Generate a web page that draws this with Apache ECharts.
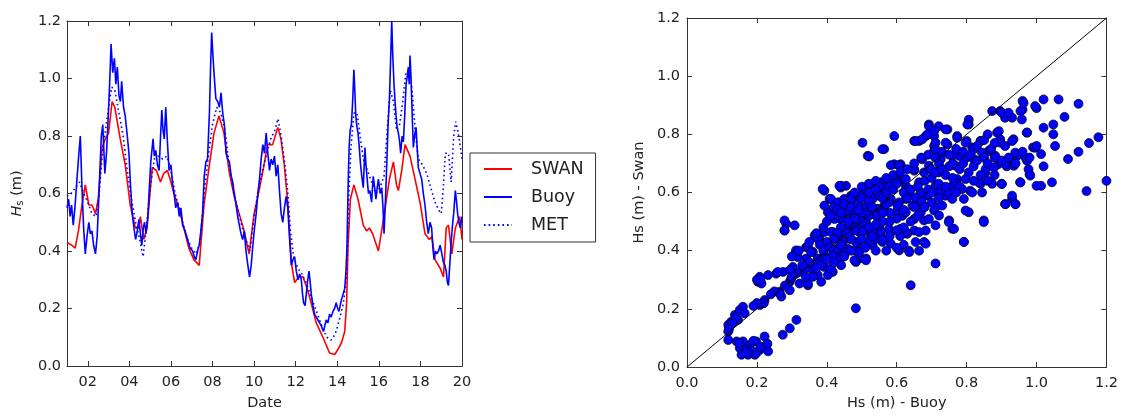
<!DOCTYPE html>
<html>
<head>
<meta charset="utf-8">
<script src="https://cdn.jsdelivr.net/npm/echarts@6/dist/echarts.min.js"></script>
<style>
  html, body { margin: 0; padding: 0; background: #fff; }
  #chart { width: 1121px; height: 416px; }
</style>
</head>
<body>
<div id="chart"></div>
<script>
// time series, [day of month, Hs in m]
var swanSeries = [
  [1.00,0.43],[1.23,0.42],[1.39,0.41],[1.55,0.47],[1.70,0.55],[1.88,0.63],[2.05,0.56],[2.20,0.56],[2.37,0.53],
  [2.50,0.58],[2.69,0.76],[2.84,0.79],[3.00,0.81],[3.17,0.92],[3.30,0.90],[3.56,0.79],[3.80,0.70],[4.04,0.56],
  [4.29,0.48],[4.45,0.48],[4.53,0.52],[4.69,0.44],[4.85,0.48],[5.10,0.69],[5.30,0.68],[5.50,0.64],[5.65,0.67],
  [5.83,0.68],[6.00,0.64],[6.14,0.60],[6.38,0.55],[6.62,0.48],[6.86,0.41],[7.10,0.37],[7.36,0.35],[7.59,0.56],
  [7.83,0.69],[8.07,0.81],[8.31,0.87],[8.55,0.81],[8.79,0.68],[9.04,0.59],[9.28,0.53],[9.52,0.47],[9.76,0.39],
  [10.00,0.53],[10.24,0.61],[10.48,0.70],[10.65,0.77],[10.89,0.77],[11.14,0.83],[11.29,0.79],[11.45,0.70],
  [11.63,0.56],[11.79,0.36],[11.95,0.29],[12.15,0.31],[12.35,0.31],[12.50,0.28],[12.67,0.24],[12.99,0.15],
  [13.31,0.10],[13.63,0.045],[13.88,0.04],[14.05,0.06],[14.20,0.08],[14.36,0.12],[14.45,0.22],[14.52,0.42],
  [14.63,0.58],[14.80,0.63],[15.00,0.58],[15.25,0.49],[15.41,0.47],[15.55,0.48],[15.70,0.46],[15.98,0.40],
  [16.22,0.51],[16.51,0.65],[16.70,0.71],[16.85,0.63],[16.94,0.61],[17.10,0.68],[17.26,0.77],[17.50,0.73],
  [17.74,0.65],[17.98,0.57],[18.22,0.46],[18.43,0.44],[18.55,0.45],[18.70,0.37],[18.95,0.34],[19.11,0.31],
  [19.24,0.48],[19.35,0.49],[19.51,0.39],[19.68,0.48],[19.89,0.52],[20.00,0.44]
];

var buoySeries = [
  [1.00,0.55],[1.08,0.58],[1.15,0.52],[1.22,0.56],[1.30,0.49],[1.38,0.55],[1.45,0.62],[1.55,0.72],[1.64,0.80],
  [1.72,0.62],[1.80,0.48],[1.88,0.39],[1.96,0.45],[2.05,0.50],[2.12,0.46],[2.20,0.47],[2.28,0.42],[2.37,0.39],
  [2.45,0.45],[2.55,0.62],[2.65,0.80],[2.72,0.84],[2.82,0.67],[2.90,0.74],[2.98,0.86],[3.05,0.98],[3.12,1.12],
  [3.20,1.02],[3.28,1.07],[3.35,0.98],[3.42,1.04],[3.50,0.94],[3.57,0.92],[3.63,0.99],[3.72,0.90],[3.80,0.87],
  [3.90,0.80],[3.98,0.74],[4.06,0.62],[4.14,0.53],[4.22,0.48],[4.30,0.44],[4.38,0.47],[4.46,0.51],[4.53,0.46],
  [4.60,0.42],[4.67,0.48],[4.73,0.50],[4.80,0.46],[4.89,0.52],[4.96,0.62],[5.03,0.71],[5.14,0.79],[5.20,0.73],
  [5.27,0.75],[5.35,0.70],[5.43,0.68],[5.50,0.80],[5.56,0.89],[5.62,0.82],[5.68,0.79],[5.75,0.90],[5.83,0.78],
  [5.91,0.68],[6.00,0.70],[6.07,0.64],[6.15,0.60],[6.23,0.55],[6.32,0.57],[6.40,0.52],[6.48,0.55],[6.56,0.49],
  [6.68,0.47],[6.80,0.44],[6.92,0.41],[7.04,0.40],[7.12,0.38],[7.20,0.37],[7.28,0.40],[7.36,0.42],[7.44,0.47],
  [7.52,0.53],[7.60,0.66],[7.68,0.71],[7.76,0.72],[7.85,0.88],[7.91,1.05],[7.96,1.16],[8.02,1.08],[8.08,1.01],
  [8.16,0.93],[8.25,0.92],[8.33,0.90],[8.41,0.95],[8.49,0.88],[8.57,0.84],[8.65,0.74],[8.73,0.72],[8.81,0.71],
  [8.90,0.66],[8.97,0.64],[9.05,0.60],[9.13,0.56],[9.21,0.52],[9.29,0.49],[9.37,0.46],[9.45,0.44],[9.53,0.47],
  [9.61,0.40],[9.70,0.35],[9.78,0.31],[9.86,0.35],[9.94,0.42],[10.02,0.48],[10.10,0.53],[10.18,0.60],[10.26,0.65],
  [10.34,0.72],[10.42,0.77],[10.50,0.74],[10.58,0.81],[10.66,0.74],[10.74,0.68],[10.82,0.72],[10.90,0.70],
  [10.98,0.73],[11.06,0.66],[11.14,0.70],[11.22,0.61],[11.30,0.53],[11.38,0.50],[11.46,0.55],[11.54,0.59],
  [11.62,0.55],[11.70,0.45],[11.79,0.35],[11.87,0.37],[11.95,0.38],[12.03,0.33],[12.11,0.30],[12.19,0.32],
  [12.27,0.30],[12.33,0.25],[12.38,0.22],[12.45,0.21],[12.51,0.25],[12.58,0.30],[12.64,0.33],[12.70,0.29],
  [12.75,0.25],[12.83,0.21],[12.91,0.18],[12.99,0.17],[13.07,0.16],[13.15,0.15],[13.23,0.14],[13.28,0.13],
  [13.34,0.12],[13.40,0.14],[13.47,0.16],[13.55,0.15],[13.63,0.18],[13.71,0.17],[13.79,0.19],[13.87,0.20],
  [13.95,0.22],[14.02,0.20],[14.08,0.19],[14.14,0.21],[14.20,0.23],[14.28,0.25],[14.36,0.27],[14.42,0.33],
  [14.47,0.42],[14.52,0.62],[14.57,0.76],[14.62,0.82],[14.68,0.84],[14.74,0.92],[14.80,1.03],[14.85,0.95],
  [14.89,0.87],[14.95,0.83],[15.00,0.81],[15.06,0.76],[15.12,0.70],[15.18,0.66],[15.25,0.62],[15.33,0.76],
  [15.38,0.70],[15.44,0.65],[15.50,0.60],[15.57,0.61],[15.65,0.57],[15.73,0.66],[15.80,0.62],[15.86,0.58],
  [15.92,0.62],[15.98,0.65],[16.06,0.60],[16.14,0.62],[16.20,0.55],[16.25,0.46],[16.32,0.58],[16.38,0.70],
  [16.45,0.85],[16.51,0.93],[16.56,1.05],[16.62,1.20],[16.67,1.08],[16.73,0.98],[16.78,0.92],[16.83,0.87],
  [16.88,0.83],[16.94,0.81],[17.00,0.78],[17.05,0.74],[17.12,0.80],[17.18,0.78],[17.25,0.88],[17.31,0.98],
  [17.37,1.01],[17.42,1.04],[17.46,0.98],[17.50,1.08],[17.55,1.00],[17.58,0.93],[17.62,0.84],[17.66,0.76],
  [17.72,0.80],[17.79,0.83],[17.85,0.75],[17.90,0.69],[17.98,0.67],[18.06,0.65],[18.14,0.60],[18.22,0.56],
  [18.30,0.50],[18.38,0.46],[18.46,0.50],[18.54,0.48],[18.60,0.41],[18.66,0.37],[18.72,0.40],[18.79,0.39],
  [18.87,0.40],[18.95,0.42],[19.03,0.39],[19.11,0.36],[19.18,0.35],[19.24,0.33],[19.30,0.29],[19.35,0.28],
  [19.41,0.35],[19.47,0.42],[19.53,0.48],[19.60,0.53],[19.68,0.61],[19.74,0.57],[19.79,0.53],[19.85,0.50],
  [19.92,0.48],[20.00,0.52]
];

var metSeries = [
  [1.0,0.59],[1.2,0.60],[1.4,0.62],[1.6,0.64],[1.8,0.60],[2.0,0.57],[2.2,0.53],[2.4,0.52],[2.55,0.60],[2.7,0.74],
  [2.85,0.82],[3.0,0.90],[3.15,0.97],[3.3,0.96],[3.5,0.88],[3.7,0.80],[3.9,0.68],[4.1,0.58],[4.3,0.50],[4.5,0.44],
  [4.66,0.38],[4.8,0.47],[5.0,0.62],[5.2,0.72],[5.4,0.73],[5.6,0.72],[5.8,0.73],[6.0,0.68],[6.2,0.60],[6.4,0.55],
  [6.6,0.49],[6.8,0.44],[7.0,0.41],[7.2,0.39],[7.4,0.43],[7.6,0.60],[7.8,0.73],[8.0,0.84],[8.2,0.90],[8.4,0.88],
  [8.6,0.82],[8.8,0.70],[9.0,0.61],[9.2,0.55],[9.4,0.49],[9.6,0.44],[9.8,0.40],[10.0,0.52],[10.2,0.61],[10.4,0.68],
  [10.6,0.74],[10.8,0.79],[11.0,0.82],[11.15,0.86],[11.3,0.80],[11.45,0.72],[11.6,0.62],[11.75,0.47],[11.9,0.38],
  [12.1,0.34],[12.3,0.32],[12.5,0.29],[12.7,0.25],[12.9,0.21],[13.1,0.17],[13.3,0.13],[13.5,0.10],[13.7,0.09],
  [13.9,0.11],[14.1,0.16],[14.3,0.22],[14.45,0.32],[14.55,0.58],[14.65,0.75],[14.8,0.88],[14.95,0.88],[15.1,0.80],
  [15.25,0.72],[15.45,0.68],[15.65,0.64],[15.85,0.60],[16.05,0.62],[16.25,0.66],[16.4,0.82],[16.55,0.96],
  [16.7,0.92],[16.85,0.82],[17.0,0.84],[17.15,0.92],[17.3,1.02],[17.45,1.03],[17.6,0.96],[17.75,0.82],[17.9,0.72],
  [18.1,0.70],[18.3,0.67],[18.5,0.62],[18.7,0.57],[18.9,0.54],[19.0,0.53],[19.1,0.62],[19.2,0.74],[19.35,0.74],
  [19.48,0.64],[19.6,0.80],[19.7,0.85],[19.85,0.80],[20.0,0.72]
];

// scatter, [Hs buoy, Hs swan]
var buoyVsSwan = [
  [1.20,0.64],[1.12,0.905],[1.063,0.92],[1.02,0.92],[1.0,0.89],[1.08,0.86],[0.96,0.915],[0.96,0.885],[1.177,0.79],
  [1.15,0.77],[1.12,0.74],[1.09,0.715],[1.143,0.605],[1.048,0.834],[1.048,0.80],[1.053,0.76],[1.044,0.635],
  [1.013,0.623],[1.02,0.69],[1.02,0.823],[1.013,0.732],[0.99,0.755],[0.98,0.663],[0.973,0.806],[0.973,0.709],
  [0.953,0.635],[0.944,0.726],[0.93,0.703],[0.94,0.56],[0.93,0.578],[0.91,0.56],[0.934,0.783],[0.915,0.69],
  [0.91,0.76],[0.896,0.88],[0.873,0.88],[0.91,0.857],[0.93,0.857],[0.887,0.806],[0.896,0.783],[0.863,0.743],
  [0.89,0.697],[0.9,0.63],[0.873,0.63],[0.854,0.669],[0.849,0.504],[0.84,0.63],[0.844,0.737],[0.84,0.777],
  [0.806,0.85],[0.806,0.834],[0.80,0.777],[0.816,0.755],[0.82,0.715],[0.806,0.669],[0.81,0.606],[0.792,0.578],
  [0.806,0.532],[0.792,0.43],[0.759,0.475],[0.75,0.504],[0.74,0.589],[0.759,0.623],[0.773,0.646],[0.768,0.692],
  [0.778,0.726],[0.759,0.726],[0.745,0.766],[0.773,0.794],[0.745,0.817],[0.72,0.828],[0.692,0.834],[0.707,0.794],
  [0.683,0.794],[0.707,0.76],[0.707,0.743],[0.664,0.777],[0.65,0.777],[0.726,0.715],[0.72,0.669],[0.711,0.623],
  [0.70,0.566],[0.707,0.538],[0.711,0.487],[0.711,0.356],[0.683,0.589],[0.678,0.669],[0.692,0.692],[0.664,0.635],
  [0.65,0.675],[0.659,0.578],[0.645,0.555],[0.669,0.532],[0.678,0.504],[0.678,0.43],[0.664,0.40],[0.65,0.469],
  [0.635,0.40],[0.63,0.458],[0.64,0.281],[0.626,0.578],[0.626,0.623],[0.616,0.52],[0.611,0.475],[0.607,0.566],
  [0.588,0.646],[0.607,0.64],[0.597,0.532],[0.583,0.578],[0.583,0.464],[0.593,0.697],[0.611,0.697],[0.593,0.794],
  [0.583,0.424],[0.564,0.749],[0.564,0.555],[0.555,0.606],[0.569,0.623],[0.54,0.606],[0.531,0.578],[0.517,0.726],
  [0.502,0.771],[0.545,0.52],[0.55,0.475],[0.54,0.441],[0.531,0.418],[0.517,0.475],[0.512,0.55],[0.507,0.509],
  [0.512,0.373],[0.493,0.373],[0.483,0.202],[0.488,0.418],[0.493,0.464],[0.479,0.578],[0.474,0.532],[0.474,0.487],
  [0.464,0.441],[0.483,0.361],[0.464,0.578],[0.455,0.532],[0.455,0.475],[0.455,0.623],[0.44,0.617],[0.436,0.566],
  [0.44,0.509],[0.436,0.441],[0.436,0.396],[0.431,0.373],[0.422,0.509],[0.417,0.464],[0.417,0.384],[0.417,0.327],
  [0.408,0.578],[0.403,0.532],[0.403,0.418],[0.393,0.606],[0.393,0.555],[0.393,0.464],[0.388,0.361],[0.384,0.293],
  [0.379,0.441],[0.374,0.373],[0.37,0.452],[0.36,0.396],[0.355,0.338],[0.341,0.412],[0.346,0.281],[0.341,0.373],
  [0.322,0.287],[0.312,0.321],[0.312,0.396],[0.303,0.344],[0.294,0.293],[0.294,0.264],[0.308,0.487],[0.284,0.492],
  [0.279,0.504],[0.279,0.469],[0.275,0.327],[0.265,0.259],[0.27,0.242],[0.255,0.321],[0.232,0.316],[0.208,0.31],
  [0.203,0.293],[0.213,0.287],[0.217,0.219],[0.208,0.213],[0.274,0.111],[0.294,0.133],[0.313,0.162],
  [0.118,0.145],[0.118,0.122],[0.127,0.156],[0.137,0.179],[0.151,0.196],[0.16,0.207],[0.165,0.185],[0.146,0.162],
  [0.118,0.093],[0.142,0.088],[0.16,0.088],[0.151,0.065],[0.156,0.042],[0.175,0.042],[0.194,0.042],[0.18,0.076],
  [0.198,0.088],[0.222,0.105],[0.227,0.076],[0.232,0.054],[0.208,0.059],[0.17,0.06],[0.185,0.055],[0.222,0.23],
  [0.265,0.253],[0.26,0.327],[0.294,0.333],[0.298,0.304],[0.279,0.47],[0.317,0.378],[0.312,0.401],[0.346,0.413],
  [0.365,0.452],[0.374,0.441],[0.355,0.395],[0.37,0.356],[0.388,0.612],[0.441,0.623],[0.393,0.384],[0.403,0.316],
  [0.393,0.344],[0.346,0.287],[0.322,0.327],
  [0.412,0.578],[0.431,0.566],[0.45,0.578],[0.469,0.589],[0.488,0.583],[0.507,0.6],[0.526,0.612],[0.545,0.6],
  [0.555,0.635],[0.431,0.521],[0.46,0.532],[0.488,0.544],[0.517,0.532],[0.545,0.544],[0.412,0.464],[0.441,0.475],
  [0.469,0.464],[0.498,0.475],[0.526,0.452],[0.555,0.464],[0.431,0.407],[0.46,0.407],[0.488,0.395],[0.384,0.35],
  [0.412,0.338],[0.441,0.35],[0.374,0.316],[0.336,0.338],
  [0.521,0.724],[0.559,0.749],[0.583,0.694],[0.607,0.694],[0.654,0.777],[0.673,0.783],[0.692,0.828],[0.707,0.811],
  [0.688,0.80],[0.711,0.771],[0.74,0.817],[0.711,0.749],[0.673,0.714],[0.65,0.68],[0.697,0.68],[0.721,0.697],
  [0.74,0.771],[0.773,0.788],[0.802,0.834],[0.797,0.771],[0.821,0.749],[0.84,0.777],[0.901,0.874],[0.92,0.874],
  [0.963,0.908],[0.954,0.88],[0.958,0.851],[0.996,0.897],[0.892,0.811],[0.897,0.771],[0.93,0.777],[0.972,0.806],
  [0.868,0.743],[0.882,0.726],[0.939,0.737],[0.996,0.754],[0.968,0.72],[0.911,0.697],[0.935,0.692],[0.977,0.68],
  [0.854,0.68],[0.878,0.686],[0.982,0.658],[0.954,0.635],[1.0,0.623],[0.901,0.629],[0.835,0.635],[0.844,0.60],
  [0.797,0.646],[0.816,0.60],[0.768,0.635],[0.787,0.612],[0.749,0.60],[0.721,0.60],[0.692,0.595],[0.669,0.60],
  [0.654,0.583],[0.673,0.56],[0.711,0.549],[0.73,0.555],[0.759,0.578],[0.911,0.56],[0.939,0.56],[0.93,0.589],
  [0.797,0.538],[0.749,0.498],[0.764,0.475],[0.721,0.521],[0.692,0.509],[0.683,0.469],[0.65,0.509],[0.626,0.532],
  [0.602,0.555],[0.578,0.566],[0.55,0.589],[0.531,0.612],[0.569,0.618],[0.602,0.635],[0.588,0.646],[0.626,0.646],
  [0.635,0.60],[0.493,0.589],[0.474,0.56],[0.455,0.538],[0.436,0.623],[0.465,0.509],[0.493,0.521],[0.512,0.498],
  [0.54,0.521],[0.559,0.532],[0.55,0.487],[0.578,0.475],[0.531,0.464],[0.502,0.464],[0.483,0.481],[0.445,0.464],
  [0.445,0.43],[0.483,0.43],[0.521,0.43],[0.559,0.43],[0.626,0.464],[0.664,0.464],[0.654,0.43],[0.683,0.424],
  [0.636,0.395],[0.607,0.401],[0.493,0.395],[0.455,0.395],[0.479,0.367],[0.512,0.367],[0.792,0.43],[0.849,0.498],
  [0.42,0.55],[0.43,0.54],[0.45,0.56],[0.47,0.55],[0.49,0.56],[0.50,0.58],[0.52,0.57],[0.53,0.55],[0.56,0.58],
  [0.57,0.60],[0.58,0.62],[0.59,0.61],[0.60,0.63],[0.62,0.60],[0.63,0.58],[0.64,0.61],[0.66,0.62],[0.68,0.64],
  [0.70,0.65],[0.71,0.67],[0.73,0.68],[0.74,0.66],[0.75,0.69],[0.76,0.70],[0.78,0.68],[0.79,0.70],[0.80,0.72],
  [0.82,0.69],[0.83,0.71],[0.85,0.72],[0.86,0.70],[0.87,0.75],[0.88,0.77],[0.76,0.65],[0.72,0.63],[0.69,0.61],
  [0.67,0.57],[0.65,0.55],[0.62,0.54],[0.60,0.51],[0.58,0.50],[0.56,0.50],[0.54,0.49],[0.52,0.48],[0.50,0.50],
  [0.48,0.51],[0.46,0.50],[0.44,0.48],[0.43,0.46],[0.42,0.44],[0.40,0.43],[0.38,0.42],[0.39,0.40],[0.41,0.41],
  [0.44,0.42],[0.47,0.44],[0.50,0.44],[0.53,0.45],[0.56,0.44],[0.58,0.45],[0.61,0.45],[0.62,0.42],[0.60,0.41],
  [0.57,0.40],[0.54,0.40],[0.51,0.41],[0.47,0.40],[0.45,0.38],[0.42,0.36],[0.40,0.37],[0.37,0.34],[0.35,0.36],
  [0.33,0.35],[0.36,0.31],[0.34,0.31],[0.30,0.31],[0.28,0.28],[0.25,0.26],[0.24,0.25],[0.22,0.22],[0.20,0.22],
  [0.19,0.21],[0.14,0.17],[0.13,0.15],[0.12,0.13],[0.15,0.08],[0.17,0.05],[0.20,0.05],[0.21,0.07],[0.19,0.09],
  [0.23,0.08],[0.20,0.30],[0.21,0.30],[0.30,0.38],[0.32,0.40],[0.35,0.43],[0.37,0.46],[0.39,0.48],[0.40,0.50],
  [0.41,0.52],[0.44,0.53],[0.47,0.58],[0.48,0.60],[0.50,0.62],[0.52,0.63],[0.54,0.64],[0.55,0.62],[0.57,0.65],
  [0.59,0.66],[0.61,0.67],[0.63,0.68],[0.65,0.70],[0.67,0.72],[0.69,0.73],[0.71,0.72],[0.73,0.74],[0.75,0.73],
  [0.77,0.75],[0.79,0.74],[0.81,0.73],[0.83,0.76],[0.85,0.78],[0.86,0.80],[0.88,0.72],[0.90,0.71],[0.92,0.72],
  [0.94,0.70],[0.96,0.74],[0.98,0.72],[1.00,0.76],[0.84,0.66],[0.86,0.64],[0.88,0.66],[0.82,0.64],[0.78,0.62],
  [0.77,0.60],[0.74,0.62],[0.72,0.58],[0.70,0.60],[0.68,0.55],[0.66,0.52],[0.64,0.50],[0.62,0.48],[0.60,0.47],
  [0.58,0.53],[0.56,0.53],[0.57,0.56],[0.52,0.52],[0.50,0.53],[0.48,0.47],[0.46,0.46],[0.52,0.60],[0.54,0.61],
  [0.49,0.54]
];

var diagonal = [[0, 0], [1.2, 1.2]];
var dayTicks = [2, 4, 6, 8, 10, 12, 14, 16, 18, 20];

var FONT = 'DejaVu Sans';
var INK = '#222';
var SPINE = '#333';

function boxAxis(extra) {
  var base = {
    type: 'value',
    splitLine: { show: false },
    axisLine: { show: true, onZero: false, lineStyle: { color: SPINE, width: 1 } },
    axisTick: { show: true, inside: true, length: 5, lineStyle: { color: SPINE, width: 1 } },
    axisLabel: { show: false }
  };
  return Object.assign(base, extra);
}

var tickLabel = { show: true, fontSize: 14.5, color: INK, fontFamily: FONT, margin: 7, showMinLabel: true, showMaxLabel: true };
var one = function (v) { return v.toFixed(1); };
var nameStyle = { fontSize: 14.5, color: INK, fontFamily: FONT };

var chart = echarts.init(document.getElementById('chart'));
chart.setOption({
  backgroundColor: '#fff',
  animation: false,
  textStyle: { fontFamily: FONT },
  grid: [
    { left: 67, top: 21, width: 395, height: 350 },
    { left: 687, top: 18, width: 421, height: 351 }
  ],
  legend: {
    orient: 'vertical',
    left: 470,
    top: 153,
    data: ['SWAN', 'Buoy', 'MET'],
    itemWidth: 28,
    itemHeight: 14,
    itemGap: 10,
    padding: [7, 12, 8, 13],
    borderColor: SPINE,
    borderWidth: 1,
    backgroundColor: '#fff',
    itemStyle: { opacity: 0 },
    textStyle: { fontSize: 17.5, color: INK, fontFamily: FONT, padding: [0, 0, 0, 14] }
  },
  xAxis: [
    boxAxis({
      gridIndex: 0, min: 1, max: 20, position: 'bottom',
      axisTick: { show: true, inside: true, length: 5, customValues: dayTicks, lineStyle: { color: SPINE } },
      axisLabel: Object.assign({}, tickLabel, {
        customValues: dayTicks, margin: 9,
        formatter: function (v) { return (v < 10 ? '0' : '') + v; }
      }),
      name: 'Date', nameLocation: 'middle', nameGap: 30, nameTextStyle: nameStyle
    }),
    boxAxis({
      gridIndex: 0, min: 1, max: 20, position: 'top',
      axisTick: { show: true, inside: true, length: 5, customValues: dayTicks, lineStyle: { color: SPINE } }
    }),
    boxAxis({
      gridIndex: 1, min: 0, max: 1.2, interval: 0.2, position: 'bottom',
      axisLabel: Object.assign({}, tickLabel, { formatter: one, margin: 9 }),
      name: 'Hs (m) - Buoy', nameLocation: 'middle', nameGap: 29, nameTextStyle: nameStyle
    }),
    boxAxis({ gridIndex: 1, min: 0, max: 1.2, interval: 0.2, position: 'top' })
  ],
  yAxis: [
    boxAxis({
      gridIndex: 0, min: 0, max: 1.2, interval: 0.2, position: 'left',
      axisLabel: Object.assign({}, tickLabel, { formatter: one, margin: 6 }),
      name: '{i|H}{s|s} (m)', nameLocation: 'middle', nameGap: 42,
      nameTextStyle: {
        fontSize: 14.5, color: INK, fontFamily: FONT,
        rich: {
          i: { fontSize: 14.5, fontStyle: 'italic', color: INK, fontFamily: FONT },
          s: { fontSize: 10, color: INK, fontFamily: FONT, padding: [6, 0, 0, 0] }
        }
      }
    }),
    boxAxis({ gridIndex: 0, min: 0, max: 1.2, interval: 0.2, position: 'right' }),
    boxAxis({
      gridIndex: 1, min: 0, max: 1.2, interval: 0.2, position: 'left',
      axisLabel: Object.assign({}, tickLabel, { formatter: one, margin: 7 }),
      name: 'Hs (m) - Swan', nameLocation: 'middle', nameGap: 40, nameTextStyle: nameStyle
    }),
    boxAxis({ gridIndex: 1, min: 0, max: 1.2, interval: 0.2, position: 'right' })
  ],
  series: [
    {
      name: 'SWAN', type: 'line', xAxisIndex: 0, yAxisIndex: 0, data: swanSeries,
      symbol: 'none', lineStyle: { color: '#ff0000', width: 1.6 }, itemStyle: { color: '#ff0000' }
    },
    {
      name: 'Buoy', type: 'line', xAxisIndex: 0, yAxisIndex: 0, data: buoySeries,
      symbol: 'none', lineStyle: { color: '#0000ff', width: 1.6 }, itemStyle: { color: '#0000ff' }
    },
    {
      name: 'MET', type: 'line', xAxisIndex: 0, yAxisIndex: 0, data: metSeries,
      symbol: 'none', lineStyle: { color: '#0000ff', width: 1.6, type: [1.6, 3] }, itemStyle: { color: '#0000ff' }
    },
    {
      type: 'scatter', xAxisIndex: 2, yAxisIndex: 2, data: buoyVsSwan,
      symbol: 'circle', symbolSize: 9,
      itemStyle: { color: '#0000ff', borderColor: '#000', borderWidth: 0.7, opacity: 1 }
    },
    {
      type: 'line', xAxisIndex: 2, yAxisIndex: 2, data: diagonal, symbol: 'none', silent: true, z: 5,
      lineStyle: { color: '#000', width: 1 }
    }
  ]
});
</script>
</body>
</html>
